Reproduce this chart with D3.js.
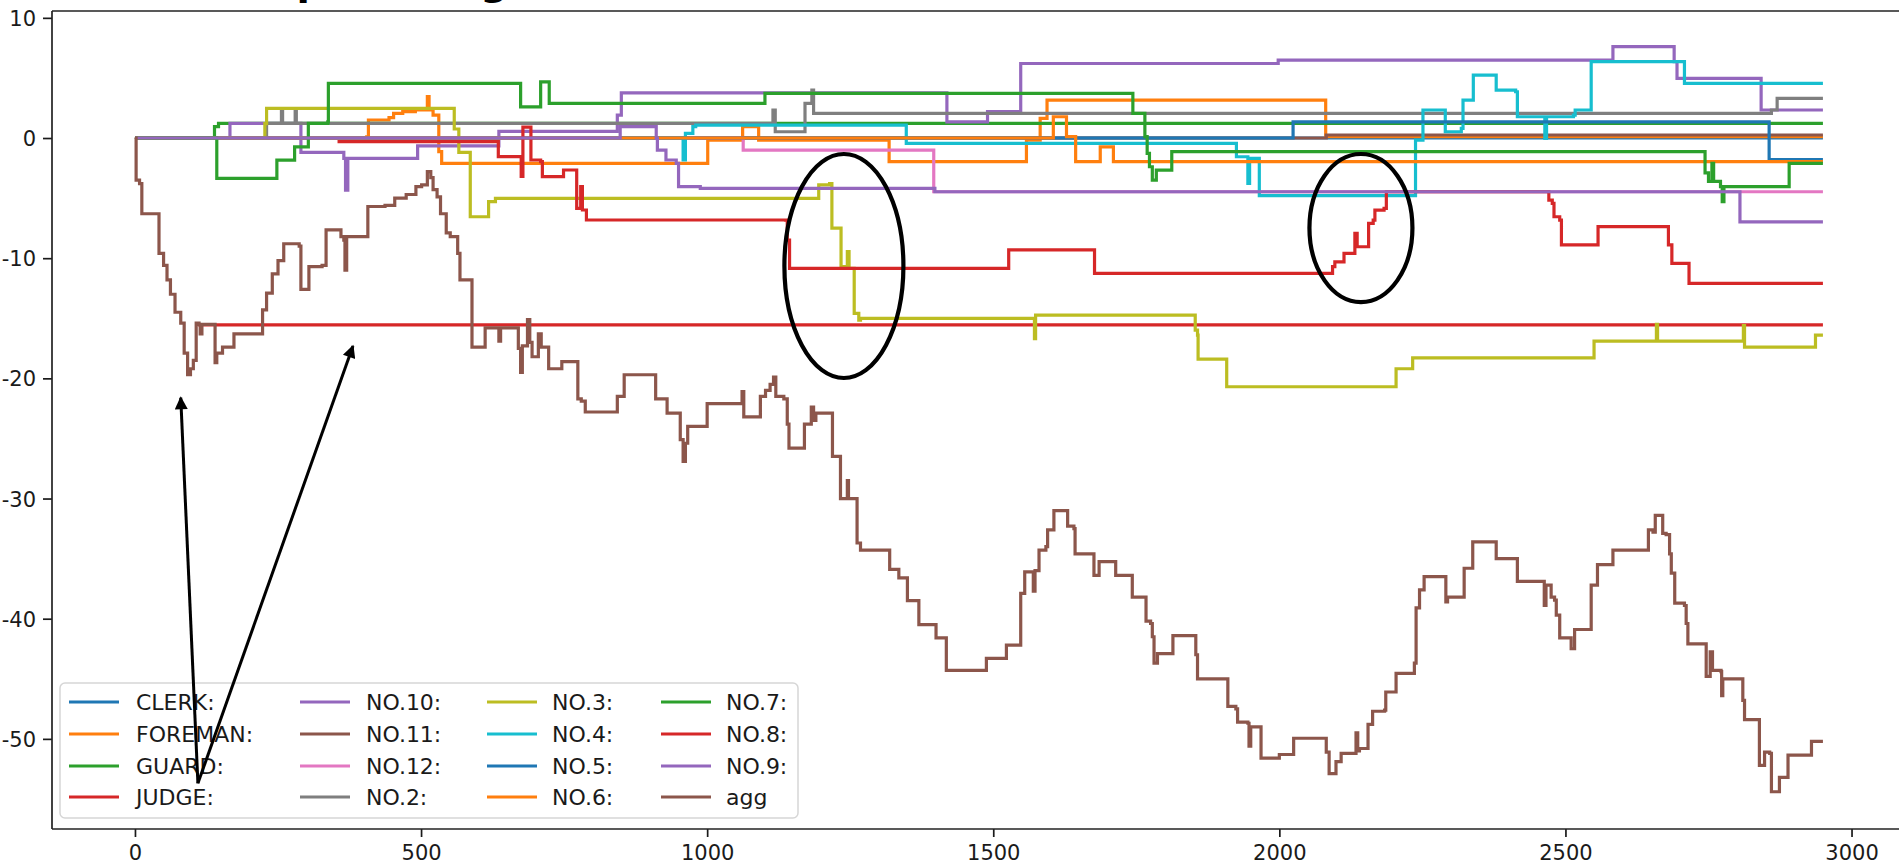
<!DOCTYPE html>
<html><head><meta charset="utf-8">
<script src="https://cdn.jsdelivr.net/npm/d3@7"></script>
<style>
body{margin:0;background:#fff;}
svg text{font-family:"DejaVu Sans",sans-serif;}
</style>
</head><body>
<svg id="chart" width="1899" height="865"></svg>
<script>
// ---------- data ----------
const seriesNames = ["CLERK:","FOREMAN:","GUARD:","JUDGE:","NO.10:","NO.11:","NO.12:","NO.2:","NO.3:","NO.4:","NO.5:","NO.6:","NO.7:","NO.8:","NO.9:","agg"];
const seriesColors = ["#1f77b4","#ff7f0e","#2ca02c","#d62728","#9467bd","#8c564b","#e377c2","#7f7f7f","#bcbd22","#17becf","#1f77b4","#ff7f0e","#2ca02c","#d62728","#9467bd","#8c564b"];
const xTicks = [0,500,1000,1500,2000,2500,3000];
const yTicks = [-50,-40,-30,-20,-10,0,10];

const CLERK = [[0,0],[2950,0]];
const FOREMAN = [[0,0],[405,0.1],[408,1.5],[444,1.7],[452,2.05],[468,2.19],[490,2.33],[511,3.44],[514,2.33],[521,1.91],[530,1.91],[531,-1.14],[536,-2.11],[1000,-2.11],[1001,-0.17],[1059,-0.17],[1062,0.94],[1090,-0.17],[1316,-0.17],[1318,-1.97],[1554,-1.97],[1558,-0.17],[1574,-0.17],[1582,1.63],[1593,1.63],[1594,3.16],[2078,3.16],[2081,0.11],[2950,0.11]];
const GUARD = [[0,0],[139,0.94],[146,1.22],[2950,1.22]];
const JUDGE = [[110,-15.55],[2950,-15.55]];
const NO10 = [[0,0],[166,1.22],[287,1.22],[290,-1.2],[361,-1.2],[365,-1.7],[368,-4.33],[372,-1.7],[491,-1.7],[494,-0.65],[633,-0.65],[636,0.55],[838,0.55],[843,1.9],[850,3.75],[1418,3.75],[1419,1.35],[1488,1.35],[1490,2.19],[1546,2.19],[1548,6.2],[1996,6.2],[1998,6.49],[2581,6.49],[2583,7.6],[2688,7.6],[2690,6.35],[2695,4.96],[2838,4.96],[2842,2.33],[2950,2.33]];
const NO11 = [[0,0],[2081,0],[2082,0.25],[2950,0.25]];
const NO12 = [[0,0],[1063,-1.0],[1396,-4.47],[2950,-4.47]];
const NO2 = [[0,0],[230,1.22],[254,1.22],[256,2.2],[258,1.22],[278,1.22],[280,2.2],[282,1.22],[1113,1.22],[1115,2.33],[1119,0.52],[1168,0.52],[1171,2.88],[1181,2.88],[1183,3.99],[1186,2.05],[2847,2.05],[2860,2.33],[2870,3.3],[2950,3.3]];
const NO3 = [[0,0],[224,0],[227,1.2],[230,2.47],[555,2.47],[558,0.75],[566,-1.2],[586,-6.55],[615,-6.55],[618,-5.3],[630,-5.02],[1191,-5.02],[1195,-3.9],[1214,-3.8],[1218,-7.5],[1230,-7.5],[1234,-10.7],[1242,-10.7],[1245,-9.46],[1248,-10.85],[1257,-14.6],[1265,-15.15],[1268,-15.0],[1571,-15.0],[1572,-16.7],[1574,-14.73],[1851,-14.73],[1853,-15.98],[1857,-16.4],[1858,-18.4],[1906,-18.4],[1908,-20.7],[2201,-20.7],[2204,-19.2],[2230,-19.2],[2233,-18.3],[2548,-18.3],[2550,-16.9],[2658,-16.9],[2659,-15.5],[2661,-16.9],[2810,-16.9],[2811,-15.6],[2813,-17.4],[2935,-17.4],[2937,-16.4],[2950,-16.4]];
const NO4 = [[0,0],[958,-1.83],[962,0.39],[975,0.94],[980,1.08],[1347,1.08],[1348,-0.45],[1921,-0.45],[1925,-1.56],[1944,-1.56],[1945,-3.78],[1948,-1.7],[1964,-1.7],[1965,-4.8],[2238,-0.17],[2245,-0.17],[2251,2.33],[2287,2.33],[2290,0.52],[2318,0.8],[2321,3.16],[2336,3.16],[2339,5.24],[2376,5.24],[2379,3.99],[2413,3.85],[2416,1.77],[2462,1.77],[2464,-0.03],[2467,1.77],[2514,1.91],[2517,2.33],[2544,2.33],[2545,6.35],[2707,6.35],[2708,4.55],[2950,4.55]];
const NO5 = [[0,0],[2023,0],[2024,1.35],[2851,1.35],[2856,-1.8],[2950,-1.8]];
const NO6 = [[0,0],[1600,0],[1605,1.77],[1625,1.77],[1628,0.11],[1640,0.11],[1644,-1.97],[1683,-1.97],[1687,-0.73],[1707,-0.73],[1710,-1.97],[2950,-1.97]];
const NO7 = [[0,0],[143,-3.36],[244,-3.36],[248,-1.84],[275,-1.84],[279,-0.73],[295,-0.73],[303,1.22],[337,1.35],[338,4.55],[670,4.55],[674,2.6],[701,2.6],[709,4.68],[721,4.68],[724,2.88],[1098,2.88],[1101,3.71],[1742,3.71],[1744,2.05],[1761,2.05],[1765,0.11],[1769,-1.28],[1773,-2.39],[1778,-3.5],[1782,-3.5],[1785,-2.67],[1808,-2.67],[1812,-1.14],[2741,-1.14],[2744,-2.9],[2750,-3.6],[2756,-2.1],[2759,-3.6],[2771,-4.05],[2774,-5.3],[2777,-4.05],[2888,-4.05],[2891,-2.11],[2950,-2.11]];
const NO8 = [[354,-0.3],[635,-1.55],[675,-3.2],[678,0.9],[692,-1.83],[709,-1.97],[712,-3.22],[742,-3.22],[749,-2.66],[769,-2.66],[772,-5.85],[779,-4.05],[782,-5.99],[789,-6.82],[1137,-6.83],[1140,-8.5],[1144,-10.85],[1523,-10.85],[1527,-9.3],[1675,-9.3],[1677,-11.27],[2089,-11.27],[2093,-10.7],[2097,-10.3],[2113,-9.6],[2128,-9.6],[2132,-7.94],[2136,-9.05],[2152,-9.05],[2156,-7.1],[2164,-6.83],[2167,-6.0],[2183,-5.86],[2187,-4.47],[2468,-4.47],[2471,-5.16],[2477,-5.44],[2480,-6.55],[2490,-6.83],[2493,-8.9],[2554,-8.9],[2557,-7.38],[2676,-7.38],[2680,-8.9],[2686,-10.43],[2713,-10.43],[2716,-12.1],[2950,-12.1]];
const NO9 = [[0,0],[845,0],[848,0.94],[909,0.94],[911,-0.03],[913,-1.0],[923,-1.0],[928,-1.83],[946,-2.11],[950,-4.05],[988,-4.19],[1396,-4.19],[1398,-4.47],[2802,-4.47],[2805,-6.97],[2950,-6.97]];
const agg = [[0,0],[2,-3.5],[8,-3.8],[12,-6.3],[42,-9.6],[50,-10.6],[56,-11.8],[62,-13.0],[70,-14.5],[80,-15.4],[86,-17.9],[92,-19.7],[97,-19.2],[102,-18.5],[107,-15.4],[112,-15.5],[114,-16.3],[117,-15.5],[139,-15.5],[140,-18.7],[143,-17.9],[153,-17.4],[173,-16.3],[220,-16.3],[223,-14.3],[230,-12.9],[240,-11.3],[250,-10.2],[260,-8.8],[273,-8.8],[287,-9.0],[290,-12.6],[303,-12.6],[304,-10.7],[327,-10.6],[334,-7.65],[354,-7.65],[360,-8.2],[365,-8.5],[367,-11.0],[370,-8.2],[400,-8.2],[407,-5.7],[437,-5.6],[454,-5.0],[474,-4.7],[491,-4.05],[501,-3.9],[511,-2.8],[517,-3.3],[521,-4.3],[528,-4.9],[534,-6.3],[544,-7.9],[551,-8.2],[564,-9.6],[568,-11.8],[588,-11.8],[589,-17.4],[611,-17.4],[612,-15.8],[635,-15.8],[636,-16.9],[639,-15.8],[668,-15.8],[670,-17.5],[674,-19.5],[677,-17.3],[686,-15.1],[690,-17.0],[694,-18.2],[705,-16.3],[710,-17.4],[721,-17.4],[723,-19.2],[744,-19.2],[746,-18.6],[772,-18.6],[774,-21.7],[780,-21.9],[787,-22.8],[842,-22.8],[843,-21.5],[854,-21.5],[855,-19.7],[909,-19.7],[910,-21.7],[927,-21.7],[930,-22.9],[950,-22.9],[953,-25.1],[958,-26.9],[962,-25.4],[966,-24.0],[997,-24.0],[1000,-22.1],[1058,-22.1],[1061,-21.1],[1064,-23.2],[1090,-23.2],[1093,-21.5],[1102,-21.0],[1110,-20.5],[1116,-19.9],[1120,-21.5],[1134,-21.7],[1140,-23.8],[1143,-25.8],[1169,-25.8],[1170,-23.8],[1182,-22.4],[1186,-23.5],[1190,-22.9],[1216,-22.9],[1219,-26.5],[1230,-26.5],[1233,-30.0],[1244,-30.0],[1245,-28.5],[1247,-30.0],[1260,-30.0],[1262,-33.7],[1268,-34.3],[1318,-34.3],[1319,-35.9],[1335,-36.6],[1350,-38.5],[1370,-40.5],[1400,-41.6],[1418,-44.3],[1486,-44.3],[1488,-43.3],[1521,-43.3],[1523,-42.2],[1546,-42.2],[1548,-37.9],[1555,-36.1],[1568,-36.1],[1570,-37.7],[1573,-36.0],[1580,-34.3],[1592,-34.0],[1595,-32.6],[1606,-31.0],[1627,-31.0],[1630,-32.3],[1641,-32.5],[1643,-34.6],[1674,-34.6],[1676,-36.4],[1685,-35.25],[1711,-35.25],[1714,-36.4],[1740,-36.4],[1743,-38.2],[1764,-38.2],[1767,-40.2],[1775,-40.4],[1778,-41.5],[1781,-43.7],[1787,-42.9],[1813,-42.9],[1814,-41.4],[1851,-41.4],[1854,-43.0],[1857,-45.0],[1907,-45.0],[1910,-47.3],[1924,-47.5],[1927,-48.6],[1945,-48.7],[1947,-50.6],[1950,-49.0],[1966,-49.0],[1968,-51.6],[1997,-51.6],[2000,-51.3],[2024,-51.3],[2025,-49.95],[2079,-49.95],[2082,-51.1],[2087,-52.9],[2096,-52.9],[2099,-51.9],[2108,-51.2],[2131,-51.2],[2134,-49.5],[2137,-51.0],[2140,-50.8],[2154,-50.8],[2155,-48.8],[2163,-47.7],[2184,-47.6],[2186,-46.1],[2201,-46.1],[2204,-44.55],[2230,-44.55],[2236,-43.7],[2239,-39.1],[2245,-37.6],[2253,-36.5],[2288,-36.5],[2291,-38.6],[2294,-38.2],[2320,-38.2],[2323,-35.8],[2335,-35.8],[2338,-33.6],[2377,-33.6],[2379,-35.0],[2415,-35.0],[2416,-36.9],[2460,-36.9],[2463,-38.9],[2466,-37.2],[2475,-38.2],[2481,-38.45],[2484,-39.7],[2490,-41.6],[2507,-41.6],[2510,-42.5],[2516,-40.9],[2542,-40.9],[2545,-37.2],[2554,-37.2],[2556,-35.5],[2580,-35.5],[2583,-34.3],[2644,-34.3],[2645,-32.6],[2653,-32.8],[2657,-31.4],[2669,-31.4],[2670,-32.9],[2676,-33.0],[2682,-34.6],[2685,-36.2],[2691,-38.7],[2708,-38.9],[2711,-40.4],[2714,-42.1],[2743,-42.1],[2746,-44.8],[2753,-42.75],[2757,-44.3],[2772,-44.4],[2773,-46.4],[2775,-45.0],[2807,-45.0],[2810,-46.8],[2813,-48.4],[2836,-48.4],[2839,-52.2],[2848,-51.1],[2857,-51.2],[2860,-54.4],[2872,-54.4],[2874,-53.2],[2886,-53.2],[2889,-51.35],[2927,-51.35],[2930,-50.2],[2950,-50.2]];

// annotation overlay (data coordinates)
const annotArrows = [{from:[110,-53.7],to:[80,-21.6]},{from:[110,-53.7],to:[381,-17.3]}];
const annotEllipses = [{c:[1239,-10.65],rx:104,ry:9.32},{c:[2142.6,-7.49],rx:90,ry:6.16}];
const titleText = "Sentiment plot of agents";

const seriesValues = [CLERK,FOREMAN,GUARD,JUDGE,NO10,NO11,NO12,NO2,NO3,NO4,NO5,NO6,NO7,NO8,NO9,agg];

(function(){
const W = 1899, H = 865;
const pL = 52, pT = 11, pB = 829, pR = 1903.6;
const x = d3.scaleLinear().domain([-145, 3091]).range([pL, pR]);
const y = d3.scaleLinear().domain([-57.5, 10.57]).range([pB, pT]);

const svg = d3.select("#chart");
svg.append("rect").attr("width",W).attr("height",H).attr("fill","#ffffff");
const defs = svg.append("defs");

svg.append("text").attr("x",55).attr("y",-5).attr("font-size",39).attr("font-weight","bold")
  .attr("fill","#000").text(titleText);

defs.append("clipPath").attr("id","clip")
  .append("rect").attr("x",pL).attr("y",pT).attr("width",pR-pL).attr("height",pB-pT);

const line = d3.line().x(d=>x(d[0])).y(d=>y(d[1])).curve(d3.curveStepAfter);
const g = svg.append("g").attr("clip-path","url(#clip)");
g.selectAll("path.series").data(seriesValues).join("path")
  .attr("class","series")
  .attr("d", d=>line(d))
  .attr("fill","none")
  .attr("stroke",(d,i)=>seriesColors[i])
  .attr("stroke-width",3.2)
  .attr("stroke-linejoin","miter")
  .attr("stroke-linecap","butt");

const fontColor = "#1a1a1a";
const xAxis = svg.append("g").attr("transform",`translate(0,${pB})`)
  .call(d3.axisBottom(x).tickValues(xTicks).tickSize(8).tickPadding(8).tickFormat(d3.format("d")));
const yAxis = svg.append("g").attr("transform",`translate(${pL},0)`)
  .call(d3.axisLeft(y).tickValues(yTicks).tickSize(9).tickPadding(7).tickFormat(d=>d<0?"-"+Math.abs(d):String(d)));
[xAxis,yAxis].forEach(a=>{
  a.select(".domain").remove();
  a.selectAll("line").attr("stroke",fontColor).attr("stroke-width",1.7);
  a.selectAll("text").attr("font-size",21).attr("fill",fontColor).attr("font-family","DejaVu Sans");
});
yAxis.selectAll("text").attr("dy","0.36em");

const sp = svg.append("g").attr("stroke","#222").attr("stroke-width",1.7).attr("fill","none");
sp.append("line").attr("x1",pL).attr("x2",pL).attr("y1",pT).attr("y2",pB);
sp.append("line").attr("x1",pL).attr("x2",W+5).attr("y1",pT).attr("y2",pT);
sp.append("line").attr("x1",pL).attr("x2",W+5).attr("y1",pB).attr("y2",pB);

const lg = svg.append("g");
lg.append("rect").attr("x",60).attr("y",683).attr("width",738).attr("height",135).attr("rx",5)
  .attr("fill","#ffffff").attr("fill-opacity",0.85).attr("stroke","#d6d6d6").attr("stroke-width",1.5);
const colHandle = [69,300,487,661], colText = [136,366,552,726], rowY = [702,734,766,797];
seriesNames.forEach((name,i)=>{
  const c = Math.floor(i/4), r = i%4;
  lg.append("line").attr("x1",colHandle[c]).attr("x2",colHandle[c]+50)
    .attr("y1",rowY[r]).attr("y2",rowY[r]).attr("stroke",seriesColors[i]).attr("stroke-width",3.2);
  lg.append("text").attr("x",colText[c]).attr("y",rowY[r]).attr("dy","0.36em")
    .attr("font-size",22).attr("fill",fontColor).text(name);
});

defs.append("marker").attr("id","ah").attr("viewBox","0 0 10 10").attr("refX",9).attr("refY",5)
  .attr("markerUnits","userSpaceOnUse")
  .attr("markerWidth",17).attr("markerHeight",13).attr("orient","auto")
  .append("path").attr("d","M0,0 L10,5 L0,10 Z").attr("fill","#000");
const an = svg.append("g");
annotArrows.forEach(a=>{
  an.append("line").attr("x1",x(a.from[0])).attr("y1",y(a.from[1]))
    .attr("x2",x(a.to[0])).attr("y2",y(a.to[1]))
    .attr("stroke","#000").attr("stroke-width",3).attr("marker-end","url(#ah)");
});
annotEllipses.forEach(e=>{
  an.append("ellipse").attr("cx",x(e.c[0])).attr("cy",y(e.c[1]))
    .attr("rx",x(e.c[0]+e.rx)-x(e.c[0])).attr("ry",y(e.c[1]-e.ry)-y(e.c[1]))
    .attr("fill","none").attr("stroke","#000").attr("stroke-width",4.2);
});
})();
</script>
</body></html>
